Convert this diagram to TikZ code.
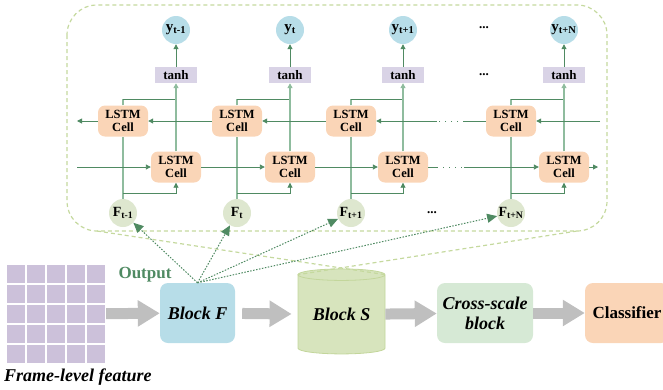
\documentclass[tikz,border=0pt]{standalone}
\usepackage{fontspec}
\setmainfont{Liberation Serif}
\usetikzlibrary{arrows.meta,shapes.geometric}

\definecolor{ycol}{HTML}{B7DDE8}
\definecolor{fcol}{HTML}{DEE7CF}
\definecolor{tanhcol}{HTML}{D9D3E6}
\definecolor{lstmcol}{HTML}{FAD5B7}
\definecolor{darkgr}{HTML}{4F8A62}
\definecolor{lightgr}{HTML}{8FBC9E}
\definecolor{zoomgr}{HTML}{C5D99E}
\definecolor{scol}{HTML}{D7E4BD}
\definecolor{sborder}{HTML}{C3D69B}
\definecolor{cscol}{HTML}{D6E9D5}
\definecolor{gridcol}{HTML}{CCC1DA}
\definecolor{fatgray}{HTML}{BFBFBF}

\def\bigfont{\fontsize{18}{20}\selectfont\bfseries\itshape}

\begin{document}
\begin{tikzpicture}[x=1pt,y=-1pt,
  ycirc/.style={circle,fill=ycol,minimum size=28,inner sep=0pt,font=\fontsize{15}{15}\selectfont\bfseries},
  fcirc/.style={circle,fill=fcol,minimum size=28,inner sep=0pt,font=\fontsize{14}{14}\selectfont\bfseries},
  tbox/.style={fill=tanhcol,minimum width=42,minimum height=16,inner sep=0pt,font=\fontsize{13}{13}\selectfont\bfseries},
  cell/.style={fill=lstmcol,rounded corners=7,minimum width=50,minimum height=31,inner sep=0pt,align=center,font=\fontsize{12.5}{13.5}\selectfont\bfseries},
  dots/.style={inner sep=0pt,font=\fontsize{13}{13}\selectfont\bfseries},
  tip/.style={-{Triangle[length=5,width=5]}},
  hline/.style={darkgr,line width=0.9},
  vline/.style={lightgr,line width=1.4},
  gap/.style={darkgr,line width=0.9,dash pattern=on 1 off 5},
  zoomln/.style={zoomgr,line width=1.2,dash pattern=on 4 off 3},
  outarr/.style={darkgr,line width=1,dash pattern=on 1.5 off 1.5,-{Triangle[length=10,width=9]}},
  fat/.style={fatgray,line width=11,-{Triangle[length=22,width=25]}},
  blk/.style={rounded corners=8,minimum height=60,inner sep=0pt,align=center},
]
\useasboundingbox (0,0) rectangle (663,389);
\clip (0,0) rectangle (663,389);

% zoomed part with the LSTM chain
\draw[zoomln,rounded corners=30] (67,5) rectangle (607,231);
\coordinate (zl) at (97,231);
\coordinate (zr) at (577,231);

\foreach \i/\xa/\xb/\lab in {1/123/176/t-1,2/237/290/t,3/351/403/t+1,4/511/564/t+N}{
  \node[ycirc] (y\i) at (\xb,30) {y\textsubscript{\lab}};
  \node[tbox] (t\i) at (\xb,75) {tanh};
  \node[cell] (b\i) at (\xa,121) {LSTM\\Cell};
  \node[cell] (f\i) at (\xb,167) {LSTM\\Cell};
  \node[fcirc] (x\i) at (\xa,213) {F\textsubscript{\lab}};
  \coordinate (s\i) at (\xa,193);
  \coordinate (m\i) at (\xa,99);
}
\node[dots] (d1) at (484,28) {...};
\node[dots] (d2) at (484,75) {...};
\node[dots] (d3) at (432,213) {...};

\foreach \i in {1,...,4}{
  \draw[vline] (x\i) -- (b\i);
  \draw[hline,tip] (s\i) -| (f\i.south);
  \draw[vline] (b\i.north) -- (m\i);
  \draw[hline] (m\i) -- (m\i -| t\i);
  \draw[vline,tip] (f\i) -- (t\i);
  \draw[hline,tip] (t\i) -- (y\i);
}

% forward row
\coordinate (inL) at (77,167);
\coordinate (outR) at (598,167);
\coordinate (ga) at (437,167);
\coordinate (gb) at (464,167);
\draw[hline,tip] (inL) -- (f1);
\draw[hline,tip] (f1) -- (f2);
\draw[hline,tip] (f2) -- (f3);
\draw[hline] (f3) -- (ga);
\draw[gap] (ga) -- (gb);
\draw[hline,tip] (gb) -- (f4);
\draw[hline,tip] (f4) -- (outR);

% backward row
\coordinate (inR) at (600,121);
\coordinate (outL) at (77,121);
\coordinate (gc) at (464,121);
\coordinate (gd) at (437,121);
\draw[hline,tip] (inR) -- (b4);
\draw[hline] (b4) -- (gc);
\draw[gap] (gc) -- (gd);
\draw[hline,tip] (gd) -- (b3);
\draw[hline,tip] (b3) -- (b2);
\draw[hline,tip] (b2) -- (b1);
\draw[hline,tip] (b1) -- (outL);

% pipeline
\foreach \r in {0,...,4}
  \foreach \c in {0,...,4}
    \fill[gridcol] (6.7+20*\c,264.7+20*\r) rectangle ++(18.6,18.6);
\node[minimum size=100,inner sep=0pt] (G) at (56,314) {};
\node[anchor=west,inner sep=0pt,font=\bigfont] (fl) at (4,377) {Frame-level feature};

\node[blk,fill=ycol,minimum width=75,font=\bigfont] (BF) at (197.5,313) {Block F};
\node[cylinder,shape border rotate=90,aspect=0.2,draw=sborder,fill=scol,line width=0.8,
  minimum width=87,minimum height=85,inner sep=0pt,font=\bigfont] (BS) at (341.5,314.5) {Block S};
\node[blk,fill=cscol,minimum width=96,font=\bigfont] (CS) at (485,313) {Cross-scale\\block};
\node[blk,fill=lstmcol,minimum width=84,font=\fontsize{17}{17}\selectfont\bfseries] (CL) at (627,313) {Classifier};
\node[inner sep=0pt,text=darkgr,font=\fontsize{17}{17}\selectfont\bfseries] (out) at (145,275) {Output};

\draw[fat] (G) -- (BF);
\draw[fat,shorten <=7,shorten >=6] (BF) -- (BS);
\draw[fat] (BS) -- (CS);
\draw[fat] (CS) -- (CL);

\draw[zoomln] (zl) -- (BS.after top);
\draw[zoomln] (zr) -- (BS.before top);

\foreach \i in {1,...,4}
  \draw[outarr] (BF.north) -- (x\i);

\end{tikzpicture}
\end{document}
